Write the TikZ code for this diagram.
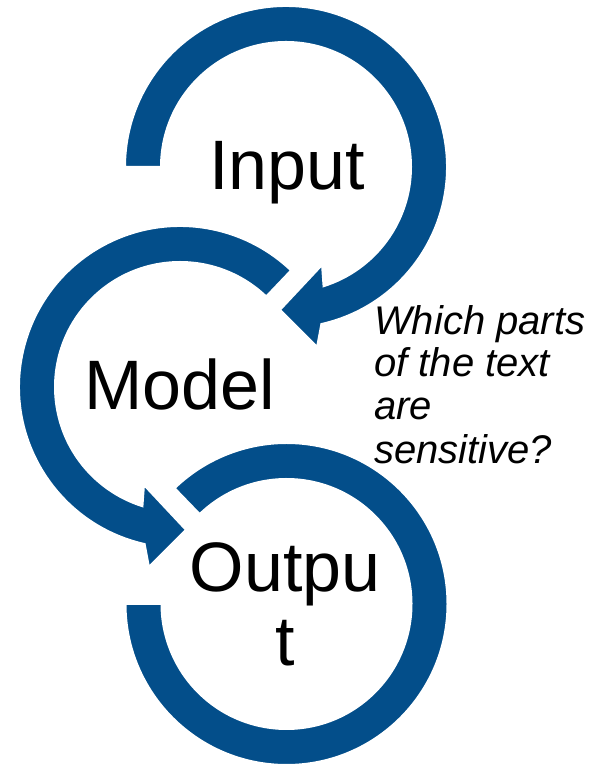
\documentclass[tikz,border=0pt]{standalone}
\usepackage{fontspec}
\setmainfont{Liberation Sans}
\usetikzlibrary{calc}
\definecolor{arrowblue}{RGB}{3,78,138}
\tikzset{
  band/.style={fill=arrowblue, draw=white, line width=2pt, line join=miter},
  biglabel/.style={anchor=base, inner sep=0pt, font=\fontsize{70}{80}\selectfont},
  question/.style={anchor=base west, inner sep=0pt, font=\fontsize{40}{43}\selectfont\itshape}
}
\begin{document}
\begin{tikzpicture}[x=1pt,y=1pt]
\useasboundingbox (0,0) rectangle (600,767);
\fill[white] (0,0) rectangle (600,767);
% centres
\coordinate (I) at (286,600);
\coordinate (M) at (180,380);
\coordinate (O) at (286.5,163);
% Output ring (no head)
\path[band] ($(O)+(134:125)$) arc[start angle=134, end angle=-180, radius=125]
  -- ($(O)+(-180:161)$) arc[start angle=-180, end angle=134, radius=161] -- cycle;
% Model ring with head
\path[band] ($(M)+(46.4:125)$) arc[start angle=46.4, end angle=252.5, radius=125]
  -- ($(M)+(249.8:104.4)$) -- ($(M)+(272.4:143)$) -- ($(M)+(260.2:182.6)$)
  -- ($(M)+(257.3:161)$) arc[start angle=257.3, end angle=46.4, radius=161] -- cycle;
% Input ring with head
\path[band] ($(I)+(180:125)$) arc[start angle=180, end angle=-72.5, radius=125]
  -- ($(I)+(-69.8:104.4)$) -- ($(I)+(-92.4:143)$) -- ($(I)+(-80.2:182.6)$)
  -- ($(I)+(-77.3:161)$) arc[start angle=-77.3, end angle=180, radius=161] -- cycle;
% labels
\node[biglabel] (input) at (287,577) {Input};
\node[biglabel] (model) at (180,357) {Model};
\node[biglabel] (output1) at (285,175) {Outpu};
\node[biglabel] (output2) at (285,101) {t};
\node[question] (q1) at (374,432) {Which parts};
\node[question] (q2) at (374,390) {of the text};
\node[question] (q3) at (374,347) {are};
\node[question] (q4) at (374,303) {sensitive?};
\end{tikzpicture}
\end{document}
